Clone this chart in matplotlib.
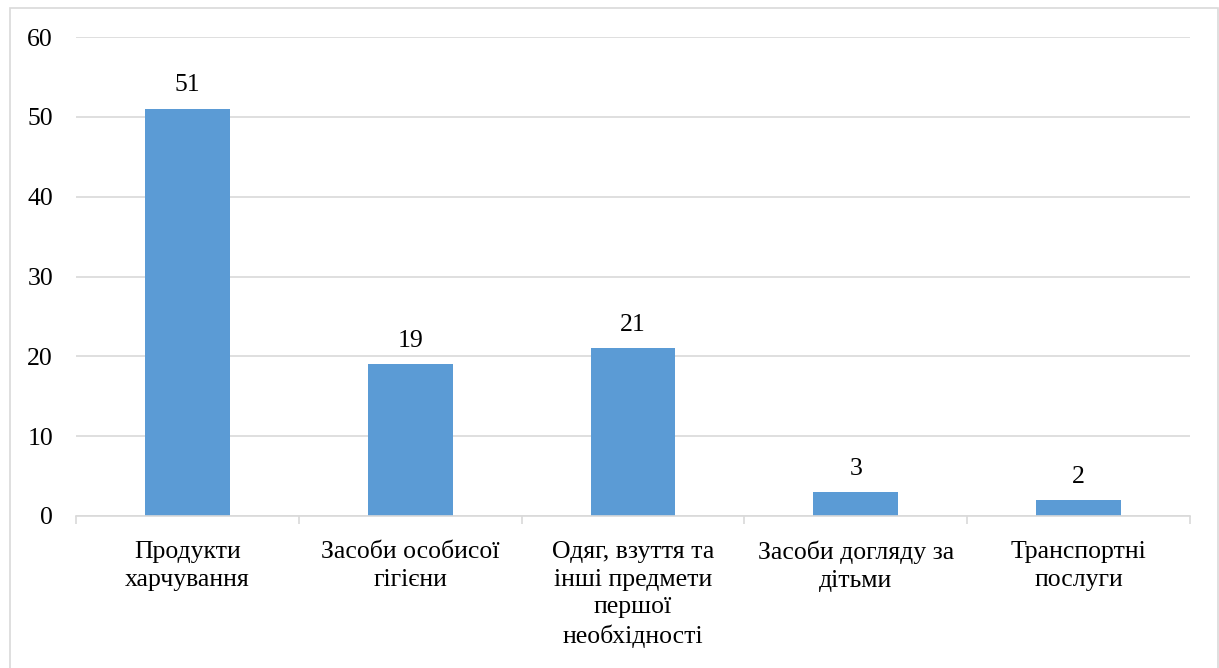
import matplotlib
matplotlib.use("Agg")
import matplotlib.pyplot as plt
from matplotlib.patches import Rectangle
import numpy as np

categories = [
    "Продукти\nхарчування",
    "Засоби особисої\nгігієни",
    "Одяг, взуття та\nінші предмети\nпершої\nнеобхідності",
    "Засоби догляду за\nдітьми",
    "Транспортні\nпослуги",
]
values = [51, 19, 21, 3, 2]
y_ticks = [0, 10, 20, 30, 40, 50, 60]

plt.rcParams["font.family"] = ["Liberation Serif", "DejaVu Serif"]
FS = 18.5
GRID = "#d9d9d9"
BAR = "#5b9bd5"

fig = plt.figure(figsize=(12.19, 6.68), dpi=100)
ax = fig.add_axes([76 / 1219, 152 / 668, 1114 / 1219, 479 / 668])

x = np.arange(len(categories))
bars = ax.bar(x, values, width=0.38, color=BAR, zorder=3)

for rect, v in zip(bars, values):
    ax.annotate(f"{v:.0f}", (rect.get_x() + rect.get_width() / 2, v),
                xytext=(0, 9), textcoords="offset points",
                ha="center", va="bottom", fontsize=FS, color="#000000")

ax.set_xlim(-0.5, len(categories) - 0.5)
ax.set_ylim(0, 60)
ax.set_yticks(y_ticks)
ax.set_yticklabels([str(t) for t in y_ticks], fontsize=FS)
ax.yaxis.grid(True, color=GRID, linewidth=1.2, zorder=0)
ax.tick_params(axis="y", length=0, pad=16.5)

ax.set_xticks(x)
ax.set_xticklabels(categories, fontsize=FS, linespacing=1.33)
ax.tick_params(axis="x", which="major", length=0, pad=18)
ax.set_xticks(np.arange(len(categories) + 1) - 0.5, minor=True)
ax.tick_params(axis="x", which="minor", length=6, width=1.2, color=GRID)

for side in ("top", "right", "left"):
    ax.spines[side].set_visible(False)
ax.spines["bottom"].set_color(GRID)
ax.spines["bottom"].set_linewidth(1.2)
ax.spines["bottom"].set_zorder(4)

# chart frame
fig.patches.append(Rectangle((9.5 / 1219, -0.05), 1208.5 / 1219, 0.05 + 660 / 668,
                             transform=fig.transFigure, fill=False,
                             edgecolor=GRID, linewidth=1.2))

fig.savefig("out.png", dpi=100)
